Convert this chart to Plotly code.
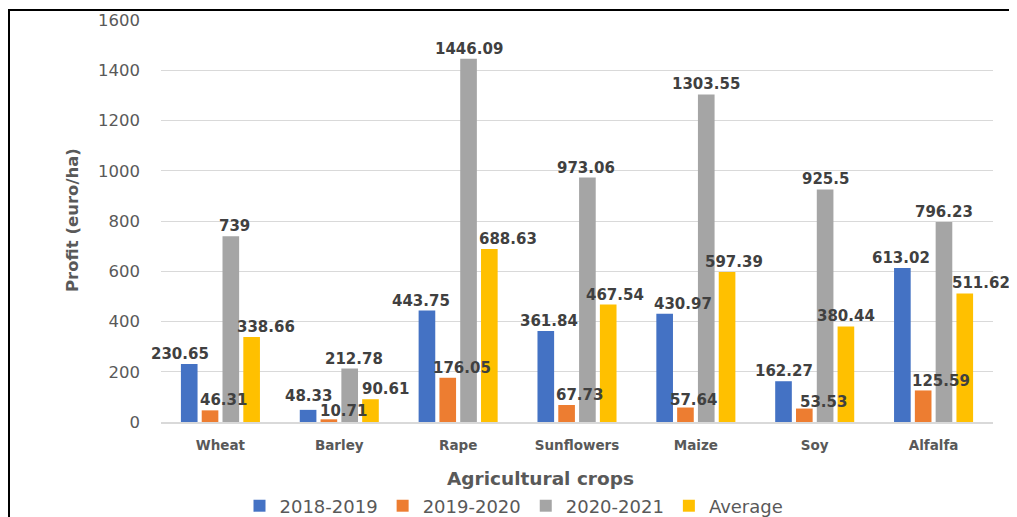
import plotly.graph_objects as go

crops = ["Wheat", "Barley", "Rape", "Sunflowers", "Maize", "Soy", "Alfalfa"]
s2018_2019 = [230.65, 48.33, 443.75, 361.84, 430.97, 162.27, 613.02]
s2019_2020 = [46.31, 10.71, 176.05, 67.73, 57.64, 53.53, 125.59]
s2020_2021 = [739, 212.78, 1446.09, 973.06, 1303.55, 925.5, 796.23]
s_average = [338.66, 90.61, 688.63, 467.54, 597.39, 380.44, 511.62]
series_names = ["2018-2019", "2019-2020", "2020-2021", "Average"]
y_ticks = [0, 200, 400, 600, 800, 1000, 1200, 1400, 1600]

series = [s2018_2019, s2019_2020, s2020_2021, s_average]
colors = ["#4472C4", "#ED7D31", "#A5A5A5", "#FFC000"]
# label nudges (px) relative to each bar's default label spot, as placed in the source
label_dx = [
    [-9, 0, -6, 3, 18, 0, -1],
    [13, 15, 14, 13, 8, 19, 18],
    [4, 4, 0, -1, 0, 0, 0],
    [14, 15, 19, 7, 7, 0, 16],
]
label_dy = [
    [0, 4, 0, 0, 0, 0, 0],
    [0, -2, 0, 0, -2, -3, -1],
    [0, 0, 0, 0, 0, 0, 0],
    [0, 0, 0, 0, 0, 0, 0],
]

OFF = 8  # page body margin
W, H = 1017 - OFF, 517 - OFF
L, R, T, B = 161 - OFF, 993 - OFF, 20 - OFF, 422 - OFF
BARGAP, GROUPGAP = 0.3, 0.2


def px_x(page_x):
    return (page_x - OFF - L) / (R - L)


def px_y(page_y):
    return (B - (page_y - OFF)) / (B - T)


fig = go.Figure()
for name, vals, col in zip(series_names, series, colors):
    fig.add_trace(go.Bar(
        x=crops, y=vals, name=name,
        marker=dict(color=col, line=dict(width=0)),
        hoverinfo="skip",
    ))

slot = (R - L) / len(crops) * (1 - BARGAP) / len(series)
label_font = dict(family="DejaVu Sans", size=15, color="#404040", weight="bold")
annotations = []
for i, vals in enumerate(series):
    for j, (crop, v) in enumerate(zip(crops, vals)):
        annotations.append(dict(
            x=crop, y=v, xref="x", yref="y", text=f"{v:g}",
            showarrow=False, xanchor="center", yanchor="bottom",
            xshift=(i - (len(series) - 1) / 2) * slot + label_dx[i][j],
            yshift=label_dy[i][j], borderpad=0, font=label_font,
        ))

annotations += [
    dict(text="Agricultural crops", xref="paper", yref="paper",
         x=px_x(540), y=px_y(478), xanchor="center", yanchor="middle",
         showarrow=False,
         font=dict(family="DejaVu Sans", size=18.5, color="#595959", weight="bold")),
    dict(text="Profit (euro/ha)", xref="paper", yref="paper",
         x=px_x(73), y=px_y(220), xanchor="center", yanchor="middle",
         textangle=-90, showarrow=False,
         font=dict(family="DejaVu Sans", size=16.5, color="#595959", weight="bold")),
]

fig.update_layout(
    width=W, height=H,
    margin=dict(l=L, r=W - R, t=T, b=H - B, pad=0, autoexpand=False),
    paper_bgcolor="white", plot_bgcolor="white",
    barmode="group", bargap=BARGAP, bargroupgap=GROUPGAP,
    showlegend=True,
    legend=dict(
        orientation="h", x=px_x(514), y=px_y(506),
        xanchor="center", yanchor="middle",
        font=dict(family="DejaVu Sans", size=18, color="#595959"),
        itemwidth=30, traceorder="normal",
        bgcolor="rgba(0,0,0,0)",
    ),
    xaxis=dict(
        range=[-0.5, len(crops) - 0.5], autorange=False,
        showgrid=False, showline=True, linecolor="#D9D9D9", linewidth=1.5,
        ticks="", ticklabelstandoff=10,
        tickfont=dict(family="DejaVu Sans", size=13.5, color="#595959", weight="bold"),
        fixedrange=True,
    ),
    yaxis=dict(
        range=[0, 1600], autorange=False, tickvals=y_ticks, showgrid=True,
        gridcolor="#D9D9D9", gridwidth=1.2, zeroline=False, showline=False,
        ticks="", ticklabelstandoff=20,
        tickfont=dict(family="DejaVu Sans", size=16.5, color="#595959"),
        fixedrange=True,
    ),
    annotations=annotations,
    shapes=[
        dict(type="line", xref="paper", yref="paper",
             x0=px_x(8), x1=px_x(1030), y0=px_y(10), y1=px_y(10),
             line=dict(color="black", width=2)),
        dict(type="line", xref="paper", yref="paper",
             x0=px_x(9), x1=px_x(9), y0=px_y(9), y1=px_y(530),
             line=dict(color="black", width=2)),
    ],
)

fig.write_html("out.html")
